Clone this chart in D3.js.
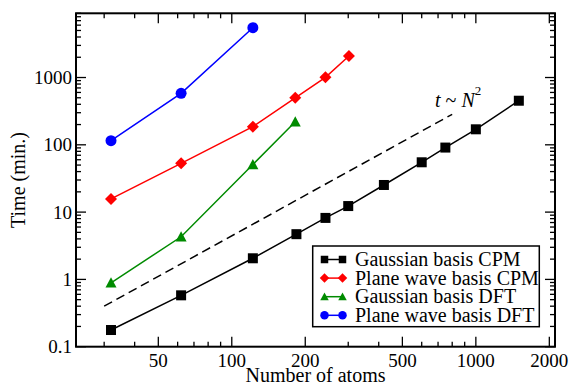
<!DOCTYPE html>
<html><head><meta charset="utf-8">
<script src="https://cdn.jsdelivr.net/npm/d3@7"></script>
</head><body style="margin:0;background:#fff"><svg id="c" width="571" height="385" style="display:block"></svg>
<script>
const xDomain = [23, 2110];
const yDomain = [0.1, 9000];
const xMajor = [50, 100, 200, 500, 1000, 2000];
const xMinor = [30, 40, 60, 70, 80, 90, 300, 400, 600, 700, 800, 900];
const yMajor = [0.1, 1, 10, 100, 1000];
const yMajorLabels = ["0.1", "1", "10", "100", "1000"];
const yMinor = [0.2,0.3,0.4,0.5,0.6,0.7,0.8,0.9,2,3,4,5,6,7,8,9,20,30,40,50,60,70,80,90,200,300,400,500,600,700,800,900,2000,3000,4000,5000,6000,7000,8000,9000];

const seriesNames = ["Gaussian basis CPM", "Plane wave basis CPM", "Gaussian basis DFT", "Plane wave basis DFT"];
const seriesColors = ["#000000", "#ff0000", "#008b00", "#0000ff"];
const seriesSymbols = ["square", "diamond", "triangle", "circle"];
const gaussCpmN = [32, 62, 122, 184, 242, 300, 420, 600, 750, 1000, 1500];
const gaussCpmT = [0.177, 0.58, 2.06, 4.7, 8.2, 12.3, 25.3, 55, 91, 170, 452];
const pwCpmN = [32, 62, 122, 182, 242, 302];
const pwCpmT = [15.7, 53, 186, 500, 1008, 2085];
const gaussDftN = [32, 62, 122, 182];
const gaussDftT = [0.89, 4.3, 51, 220];
const pwDftN = [32, 62, 122];
const pwDftT = [115, 582, 5500];
const dashN = [30, 800];
const dashT = [0.4, 284];

const seriesN = [gaussCpmN, pwCpmN, gaussDftN, pwDftN];
const seriesT = [gaussCpmT, pwCpmT, gaussDftT, pwDftT];

const FONT = "Liberation Serif";
const W = 571, H = 385;
const m = {l: 76, r: 16, t: 13.3, b: 38.3};
const svg = d3.select("#c");
const x = d3.scaleLog().domain(xDomain).range([m.l, W - m.r]);
const y = d3.scaleLog().domain(yDomain).range([H - m.b, m.t]);
const x0 = m.l, x1 = W - m.r, y0 = H - m.b, y1 = m.t;

function txt(g) { return g.append("text").style("font-family", FONT).attr("fill", "#000"); }

// ticks (inward, mirrored)
const tk = svg.append("g").attr("stroke", "#000").attr("stroke-width", 1.3);
function xt(v, len) {
  tk.append("line").attr("x1", x(v)).attr("x2", x(v)).attr("y1", y0).attr("y2", y0 - len);
  tk.append("line").attr("x1", x(v)).attr("x2", x(v)).attr("y1", y1).attr("y2", y1 + len);
}
function yt(v, len) {
  tk.append("line").attr("y1", y(v)).attr("y2", y(v)).attr("x1", x0).attr("x2", x0 + len);
  tk.append("line").attr("y1", y(v)).attr("y2", y(v)).attr("x1", x1).attr("x2", x1 - len);
}
xMajor.forEach(v => xt(v, 10));
xMinor.forEach(v => xt(v, 5));
yMajor.forEach(v => yt(v, 10));
yMinor.forEach(v => yt(v, 5));

// tick labels
xMajor.forEach(v => txt(svg).attr("x", x(v)).attr("y", 367).attr("text-anchor", "middle").attr("font-size", 19).text(v));
yMajor.forEach((v, i) => txt(svg).attr("x", 72).attr("y", y(v)).attr("dy", "0.34em").attr("text-anchor", "end").attr("font-size", 19).text(yMajorLabels[i]));

// axis titles
txt(svg).attr("x", (x0 + x1) / 2).attr("y", 382).attr("text-anchor", "middle").attr("font-size", 20).text("Number of atoms");
txt(svg).attr("transform", `translate(25,${(y0 + y1) / 2}) rotate(-90)`).attr("text-anchor", "middle").attr("font-size", 20).text("Time (min.)");

// dashed N^2 line
const line = d3.line().x(d => x(d[0])).y(d => y(d[1]));
svg.append("path").datum(dashN.map((n, i) => [n, dashT[i]])).attr("d", line)
  .attr("fill", "none").attr("stroke", "#000").attr("stroke-width", 1.5).attr("stroke-dasharray", "9,5");
const lab = txt(svg).attr("x", 435).attr("y", 106.5).attr("font-size", 20);
lab.append("tspan").attr("font-style", "italic").text("t");
lab.append("tspan").text(" ~ ");
lab.append("tspan").attr("font-style", "italic").text("N");
lab.append("tspan").attr("font-size", 13).attr("dy", -12).text("2");

// symbols
function symbol(g, type, cx, cy, s, color) {
  const h = s / 2;
  if (type === "square") g.append("rect").attr("x", cx - h).attr("y", cy - h).attr("width", s).attr("height", s).attr("fill", color);
  else if (type === "circle") g.append("circle").attr("cx", cx).attr("cy", cy).attr("r", h + 0.5).attr("fill", color);
  else if (type === "diamond") { const d = h + 1; g.append("path").attr("d", `M${cx},${cy-d}L${cx+d},${cy}L${cx},${cy+d}L${cx-d},${cy}Z`).attr("fill", color); }
  else if (type === "triangle") { const d = h + 0.5; g.append("path").attr("d", `M${cx},${cy-d}L${cx+d},${cy+d*0.85}L${cx-d},${cy+d*0.85}Z`).attr("fill", color); }
}

seriesN.forEach((ns, i) => {
  const pts = ns.map((n, j) => [n, seriesT[i][j]]);
  const g = svg.append("g");
  g.append("path").datum(pts).attr("d", line).attr("fill", "none").attr("stroke", seriesColors[i]).attr("stroke-width", 1.5);
  pts.forEach(p => symbol(g, seriesSymbols[i], x(p[0]), y(p[1]), 10, seriesColors[i]));
});

// legend
const lg = svg.append("g");
lg.append("rect").attr("x", 312.7).attr("y", 246).attr("width", 226.6).attr("height", 80.7).attr("fill", "#fff").attr("stroke", "#000").attr("stroke-width", 1.5);
seriesNames.forEach((name, i) => {
  const cy = 259.5 + i * 18.6;
  lg.append("line").attr("x1", 324).attr("x2", 343).attr("y1", cy).attr("y2", cy).attr("stroke", seriesColors[i]).attr("stroke-width", 1.5);
  symbol(lg, seriesSymbols[i], 324.5, cy, 7.5, seriesColors[i]);
  symbol(lg, seriesSymbols[i], 342.5, cy, 7.5, seriesColors[i]);
  txt(lg).attr("x", 355).attr("y", cy).attr("dy", "0.33em").attr("font-size", 20).text(name);
});

// frame
svg.append("rect").attr("x", x0).attr("y", y1).attr("width", x1 - x0).attr("height", y0 - y1).attr("fill", "none").attr("stroke", "#000").attr("stroke-width", 2);
</script></body></html>
